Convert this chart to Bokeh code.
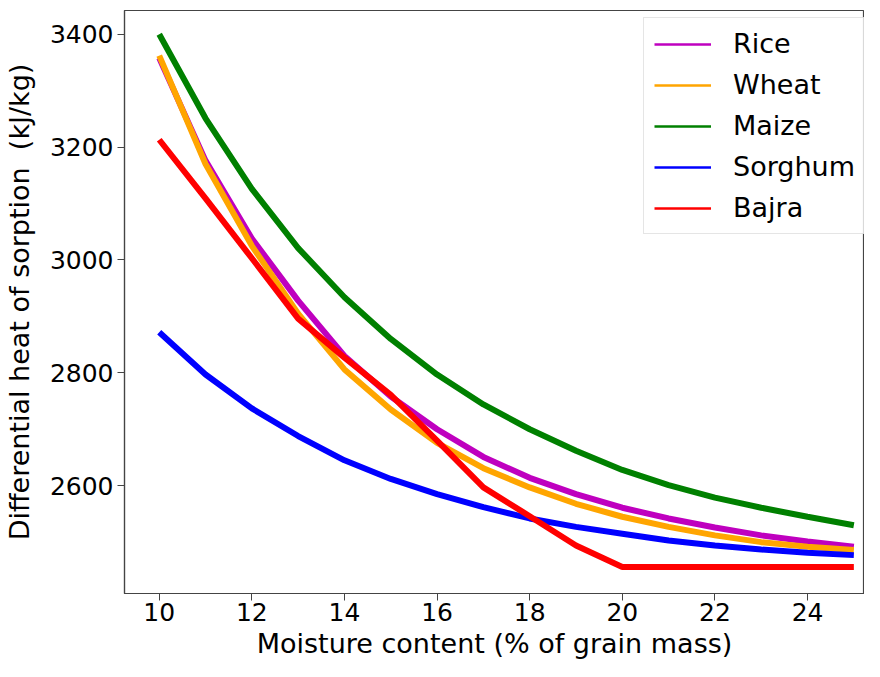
from bokeh.plotting import figure
from bokeh.models import Range1d, Legend, LegendItem, FixedTicker
from bokeh.embed import file_html
from bokeh.resources import INLINE

moisture = [10, 11, 12, 13, 14, 15, 16, 17, 18, 19, 20, 21, 22, 23, 24, 25]
rice = [3358, 3176, 3038, 2928, 2830, 2758, 2700, 2651, 2614, 2585, 2561, 2542, 2526, 2512, 2501, 2492]
wheat = [3362, 3170, 3025, 2905, 2806, 2735, 2676, 2631, 2597, 2568, 2545, 2527, 2512, 2500, 2492, 2486]
maize = [3400, 3251, 3126, 3021, 2934, 2860, 2797, 2744, 2700, 2662, 2628, 2601, 2579, 2561, 2545, 2530]
sorghum = [2872, 2797, 2737, 2688, 2645, 2612, 2585, 2562, 2542, 2527, 2515, 2503, 2494, 2487, 2481, 2477]
bajra = [3213, 3109, 3003, 2896, 2827, 2761, 2680, 2597, 2546, 2494, 2456, 2456, 2456, 2456, 2456, 2456]

names = ["Rice", "Wheat", "Maize", "Sorghum", "Bajra"]
colors = ["#BF00BF", "#FFA500", "#008000", "#0000FF", "#FF0000"]
series = [rice, wheat, maize, sorghum, bajra]
x_ticks = [10, 12, 14, 16, 18, 20, 22, 24]
y_ticks = [2600, 2800, 3000, 3200, 3400]

FONT = "DejaVu Sans"

p = figure(width=864, height=661, output_backend="svg", toolbar_location=None,
           x_range=Range1d(9.25, 25.23), y_range=Range1d(2409, 3442),
           min_border_left=122, min_border_right=0, min_border_top=10, min_border_bottom=0)

p.xgrid.visible = False
p.ygrid.visible = False
p.outline_line_color = "#444444"
p.outline_line_width = 1.2

for ax in (p.xaxis[0], p.yaxis[0]):
    ax.axis_line_color = "#444444"
    ax.axis_line_width = 1.2
    ax.major_tick_line_color = "#444444"
    ax.major_tick_out = 7
    ax.major_tick_in = 0
    ax.minor_tick_line_color = None
    ax.major_label_text_font = FONT
    ax.major_label_text_font_size = "25px"
    ax.major_label_text_color = "black"
    ax.axis_label_text_font = FONT
    ax.axis_label_text_font_size = "27px"
    ax.axis_label_text_font_style = "normal"
    ax.axis_label_text_color = "black"

p.xaxis.ticker = FixedTicker(ticks=x_ticks)
p.yaxis.ticker = FixedTicker(ticks=y_ticks)
p.xaxis.axis_label = "Moisture content (% of grain mass)"
p.yaxis.axis_label = "Differential heat of sorption \u00a0(kJ/kg)"
p.xaxis.major_label_standoff = 2
p.xaxis.axis_label_standoff = 4
p.yaxis.major_label_standoff = 4
p.yaxis.axis_label_standoff = 12

items = []
for name, col, ys in zip(names, colors, series):
    p.line(moisture, ys, line_color=col, line_width=6)
for name, col, ys in zip(names, colors, series):
    dummy = p.line([float("nan")], [float("nan")], line_color=col, line_width=2.5)
    items.append(LegendItem(label=name, renderers=[dummy]))

legend = Legend(items=items, location=(519, 359))
legend.label_text_font = FONT
legend.label_text_font_size = "27px"
legend.label_text_color = "black"
legend.glyph_width = 57
legend.glyph_height = 30
legend.label_height = 30
legend.spacing = 10
legend.padding = 10
legend.label_standoff = 22
legend.margin = 0
legend.border_line_color = "#cccccc"
legend.border_line_width = 1
legend.background_fill_alpha = 0.8
p.add_layout(legend)

open("out.html", "w").write(file_html(p, INLINE))
